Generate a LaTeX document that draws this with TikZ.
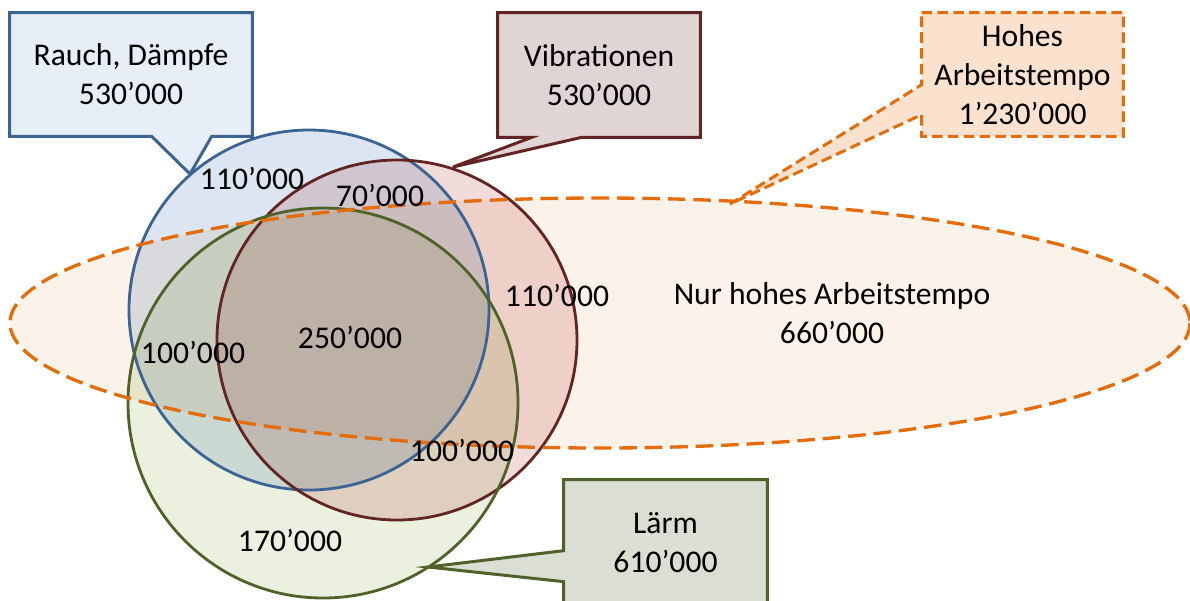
\documentclass[tikz,border=0pt]{standalone}
\usepackage{fontspec}
\setmainfont{Carlito}
\usepackage{tkz-euclide}
\usetikzlibrary{calc}

\definecolor{rauchline}{HTML}{3A6494}
\definecolor{rauchfill}{HTML}{DCE6F2}
\definecolor{rauchbox}{HTML}{E8EEF7}
\definecolor{vibline}{HTML}{632523}
\definecolor{vibfill}{HTML}{F2DCDB}
\definecolor{vibbox}{HTML}{E0D4D4}
\definecolor{laermline}{HTML}{4F6228}
\definecolor{laermfill}{HTML}{EBF1DE}
\definecolor{laermbox}{HTML}{DBDED2}
\definecolor{tempoline}{HTML}{E46C0A}
\definecolor{tempofill}{HTML}{FBF2E9}
\definecolor{tempobox}{HTML}{FBE2CF}

\tikzset{
    zahl/.style={font=\fontsize{18}{22.3}\selectfont,align=center,inner sep=0pt},
    kasten/.style={inner sep=0pt,minimum height=2.46cm},
    ring/.style={line width=1.6pt},
    rand/.style={line width=1.7pt},
    strich/.style={line width=1.9pt,dash pattern=on 10pt off 4.5pt},
    kurzstrich/.style={line width=1.7pt,dash pattern=on 6pt off 3pt}
}

\begin{document}
\begin{tikzpicture}[x=0.02cm,y=-0.02cm]
                \useasboundingbox (0,0) rectangle (1190,600);
                \tkzDefPoints{309/310/R,397/340/V,323/403/L,600/323/T}
                \tkzDefPoints{190/174/r,453/167/v,428/567/l,730/204/t}
                \begin{scope}[blend group=multiply]
                    \fill[tempofill] (T) ellipse [x radius=590,y radius=125];
                    \fill[rauchfill] (R) circle [radius=180];
                    \fill[vibfill] (V) circle [radius=180];
                    \fill[laermfill] (L) circle [radius=195];
                \end{scope}
                \draw[ring,rauchline] (R) circle [radius=180];
                \draw[ring,vibline] (V) circle [radius=180];
                \draw[ring,laermline] (L) circle [radius=195];
                \draw[strich,tempoline] (T) ellipse [x radius=590,y radius=125];
                \node[kasten,minimum width=4.84cm] (rauch) at (131,74.5) {};
                \node[kasten,minimum width=4.04cm,minimum height=2.48cm] (vib) at (599,75) {};
                \node[kasten,minimum width=4.02cm] (tempo) at (1022.5,74.5) {};
                \node[kasten,minimum width=4.06cm,minimum height=2.52cm] (laerm) at (665.5,543) {};
                \draw[rand,rauchline,fill=rauchbox] (rauch.north west) -- (rauch.north east) -- (rauch.south east)
                    -- ($(rauch.south west)+(202,0)$) -- (r) -- ($(rauch.south west)+(142,0)$) -- (rauch.south west) -- cycle;
                \draw[rand,vibline,fill=vibbox] (vib.north west) -- (vib.north east) -- (vib.south east)
                    -- ($(vib.south west)+(84,0)$) -- (v) -- ($(vib.south west)+(34,0)$) -- (vib.south west) -- cycle;
                \draw[kurzstrich,tempoline,fill=tempobox] (tempo.north west) -- (tempo.north east) -- (tempo.south east)
                    -- (tempo.south west) -- ($(tempo.north west)+(0,102)$) -- (t) -- ($(tempo.north west)+(0,72)$) -- cycle;
                \draw[rand,laermline,fill=laermbox] (laerm.north west) -- (laerm.north east) -- (laerm.south east)
                    -- (laerm.south west) -- ($(laerm.north west)+(0,102)$) -- (l) -- ($(laerm.north west)+(0,71)$) -- cycle;
                \node[zahl] (rauchtext) at (rauch) {Rauch, Dämpfe\\530’000};
                \node[zahl] (vibtext) at (vib) {Vibrationen\\530’000};
                \node[zahl] (tempotext) at (tempo) {Hohes\\Arbeitstempo\\1’230’000};
                \node[zahl] (laermtext) at (laerm) {Lärm\\610’000};
                \node[zahl] (rauchonly) at (252,178) {110’000};
                \node[zahl] (rauchvib) at (380,195) {70’000};
                \node[zahl] (vibonly) at (557,295) {110’000};
                \node[zahl] (mitte) at (350,337) {250’000};
                \node[zahl] (rauchlaerm) at (193,352) {100’000};
                \node[zahl] (viblaerm) at (462,450) {100’000};
                \node[zahl] (laermonly) at (290,540) {170’000};
                \node[zahl] (tempoonly) at (832,313) {Nur hohes Arbeitstempo\\660’000};
\end{tikzpicture}
\end{document}
